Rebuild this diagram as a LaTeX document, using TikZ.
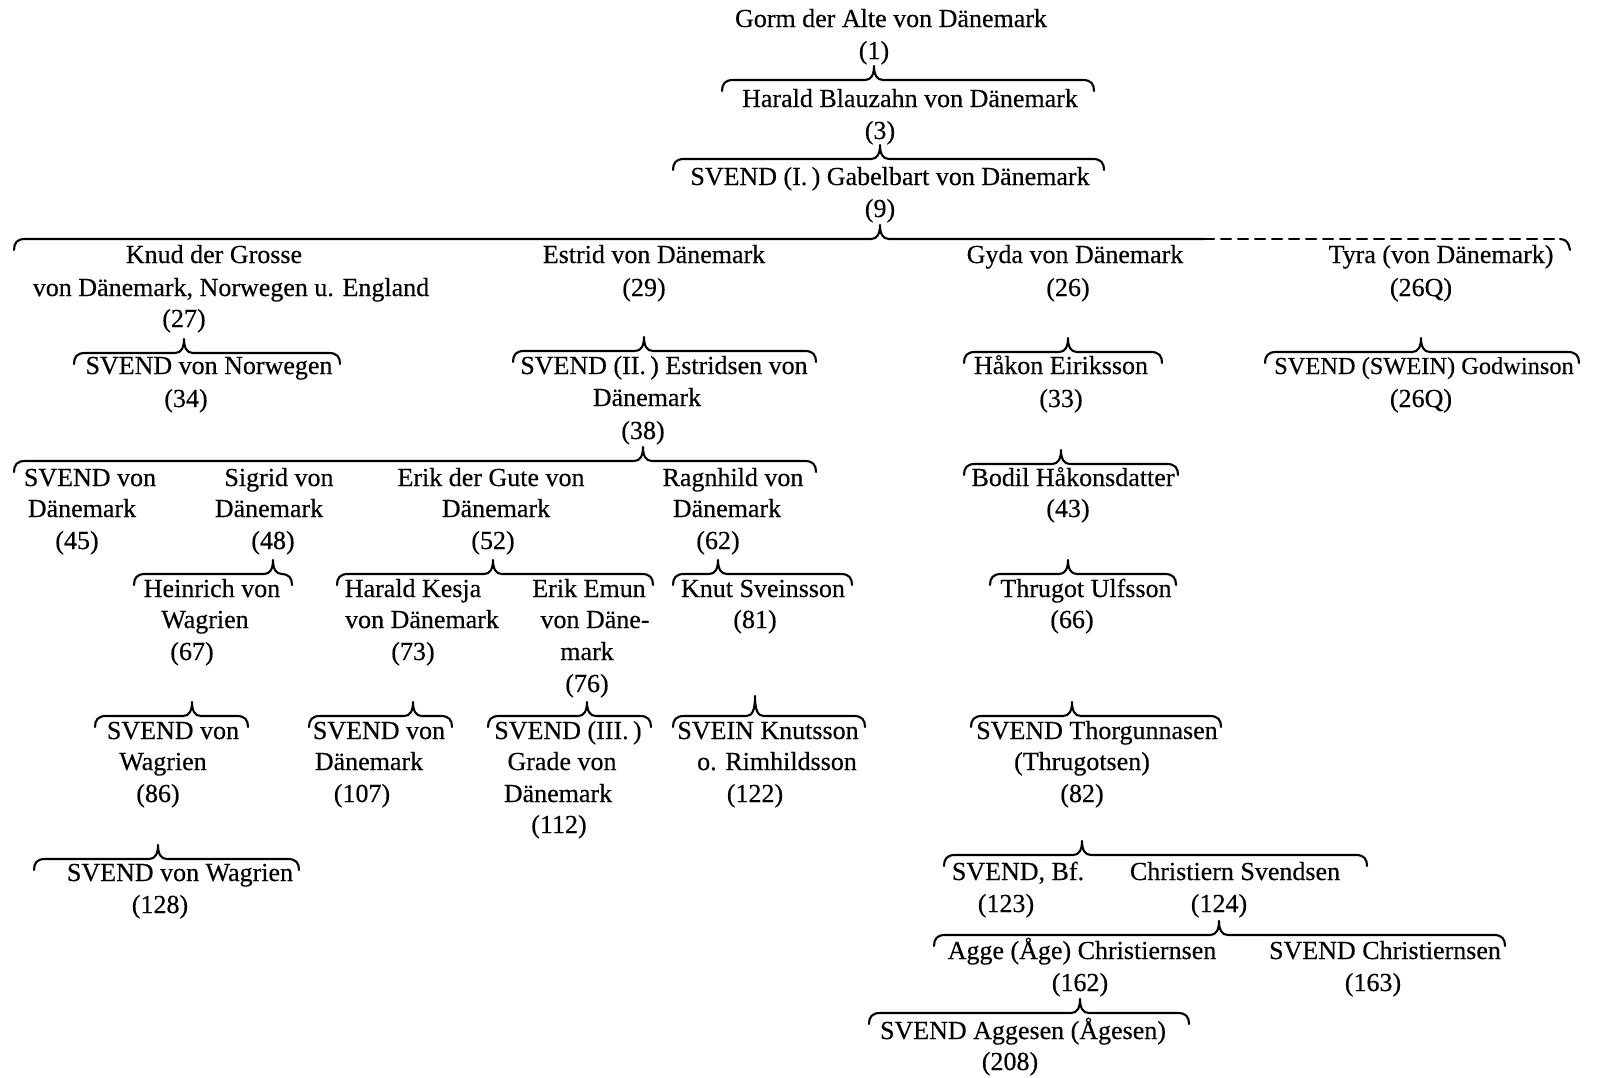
\documentclass[tikz,border=0pt]{standalone}
\usepackage{fontspec}
\setmainfont{Liberation Serif}[FakeBold=0.35]
\usetikzlibrary{calc}
\tikzset{
  lbl/.style={anchor=base, inner sep=0pt, font=\fontsize{13}{16}\selectfont},
  brc/.style={line width=1.05pt, line cap=round, line join=round},
}
% text line: name, x, y (visual middle), text
\newcommand\T[4]{\node[lbl] (#1) at ({#2},{#3+8}) {#4};}
% family brace: [peak height] parent number node, left x, right x, line y
\newcommand\fbr[5][14]{%
  \coordinate (yy) at (0,{#5});
  \coordinate (pk) at (#2 |- yy);
  \draw[brc] ({#3},{#5+11}) .. controls ({#3},{#5+4}) and ({#3+3},{#5}) .. ({#3+11},{#5})
    -- ($(pk)+(-9,0)$) .. controls ($(pk)+(-3,0)$) and ($(pk)+(0,-5)$) .. ($(pk)+(0,-#1)$)
    .. controls ($(pk)+(0,-5)$) and ($(pk)+(3,0)$) .. ($(pk)+(9,0)$)
    -- ({#4-11},{#5}) .. controls ({#4-3},{#5}) and ({#4},{#5+4}) .. ({#4},{#5+11});}
\begin{document}
\begin{tikzpicture}[x=0.5pt,y=-0.5pt]
\useasboundingbox[fill=white] (0,0) rectangle (1600,1077);

% --- top line
\T{g1}{891}{19}{Gorm der Alte von Dänemark}
\T{n1}{874}{51}{(1)}
\fbr{n1}{722}{1094}{80}
\T{g3}{910}{99}{Harald Blauzahn von Dänemark}
\T{n3}{880}{131}{(3)}
\fbr{n3}{673}{1104}{159}
\T{g9}{890}{177}{SVEND (I.\,) Gabelbart von Dänemark}
\T{n9}{880}{209}{(9)}

% big brace (solid, then dashed)
\coordinate (yy) at (0,239);
\coordinate (pk) at (n9 |- yy);
\draw[brc] (14,250) .. controls (14,243) and (17,239) .. (25,239)
  -- ($(pk)+(-9,0)$) .. controls ($(pk)+(-3,0)$) and ($(pk)+(0,-5)$) .. ($(pk)+(0,-14)$)
  .. controls ($(pk)+(0,-5)$) and ($(pk)+(3,0)$) .. ($(pk)+(9,0)$)
  -- (1204,239) coordinate (dstart);
\draw[brc, dash pattern=on 5pt off 3.5pt] (dstart) -- (1560,239) coordinate (dend);
\draw[brc] (dend) .. controls (1566,239) and (1569,243) .. (1570,250);

% --- Knud
\T{k1}{214}{255}{Knud der Grosse}
\T{k2}{231}{288}{von Dänemark, Norwegen u. England}
\T{n27}{184}{319}{(27)}
\fbr{n27}{74}{340}{353}
\T{s34}{209}{366}{SVEND von Norwegen}
\T{n34}{186}{399}{(34)}

% --- Estrid
\T{e1}{654}{255}{Estrid von Dänemark}
\T{n29}{644}{288}{(29)}
\fbr{n29}{513}{816}{351}
\T{s38a}{664}{366}{SVEND (II.\,) Estridsen von}
\T{s38b}{647}{398}{Dänemark}
\T{n38}{643}{431}{(38)}
\fbr{n38}{14}{816}{461}

\T{s45a}{90}{478}{SVEND von}
\T{s45b}{82}{509}{Dänemark}
\T{n45}{77}{541}{(45)}
\T{s48a}{279}{478}{Sigrid von}
\T{s48b}{269}{509}{Dänemark}
\T{n48}{273}{541}{(48)}
\T{s52a}{491}{478}{Erik der Gute von}
\T{s52b}{496}{509}{Dänemark}
\T{n52}{493}{541}{(52)}
\T{s62a}{733}{478}{Ragnhild von}
\T{s62b}{727}{509}{Dänemark}
\T{n62}{718}{541}{(62)}

\fbr{n48}{134}{292}{574}
\T{s67a}{212}{589}{Heinrich von}
\T{s67b}{205}{620}{Wagrien}
\T{n67}{192}{652}{(67)}
\fbr{n52}{337}{653}{574}
\T{s73a}{413}{589}{Harald Kesja}
\T{s73b}{422}{620}{von Dänemark}
\T{n73}{413}{652}{(73)}
\T{s76a}{589}{589}{Erik Emun}
\T{s76b}{595}{620}{von Däne-}
\T{s76c}{587}{652}{mark}
\T{n76}{587}{684}{(76)}
\fbr{n62}{673}{852}{574}
\T{s81}{763}{589}{Knut Sveinsson}
\T{n81}{755}{620}{(81)}

\fbr{n67}{95}{248}{716}
\T{s86a}{173}{731}{SVEND von}
\T{s86b}{163}{762}{Wagrien}
\T{n86}{158}{794}{(86)}
\fbr{n86}{34}{299}{859}
\T{s128}{180}{873}{SVEND von Wagrien}
\T{n128}{160}{905}{(128)}

\fbr{n73}{309}{452}{716}
\T{s107a}{379}{731}{SVEND von}
\T{s107b}{369}{762}{Dänemark}
\T{n107}{362}{794}{(107)}

\fbr{n76}{488}{651}{716}
\T{s112a}{568}{731}{SVEND (III.\,)}
\T{s112b}{562}{762}{Grade von}
\T{s112c}{558}{794}{Dänemark}
\T{n112}{559}{825}{(112)}

\fbr[20]{n81}{673}{865}{716}
\T{s122a}{768}{731}{SVEIN Knutsson}
\T{s122b}{777}{762}{o. Rimhildsson}
\T{n122}{755}{794}{(122)}

% --- Gyda
\T{gy}{1075}{255}{Gyda von Dänemark}
\T{n26}{1068}{288}{(26)}
\fbr{n26}{964}{1162}{352}
\T{s33}{1061}{366}{Håkon Eiriksson}
\T{n33}{1061}{399}{(33)}
\fbr{n33}{964}{1178}{464}
\T{s43}{1073}{478}{Bodil Håkonsdatter}
\T{n43}{1068}{509}{(43)}
\fbr{n43}{990}{1176}{574}
\T{s66}{1086}{589}{Thrugot Ulfsson}
\T{n66}{1072}{620}{(66)}
\fbr{n66}{971}{1221}{716}
\T{s82a}{1097}{731}{SVEND Thorgunnasen}
\T{s82b}{1082}{762}{(Thrugotsen)}
\T{n82}{1082}{794}{(82)}
\fbr{n82}{944}{1367}{855}
\T{s123}{1018}{872}{SVEND, Bf.}
\T{n123}{1006}{904}{(123)}
\T{s124}{1235}{872}{Christiern Svendsen}
\T{n124}{1219}{904}{(124)}
\fbr{n124}{934}{1505}{935}
\T{s162}{1082}{951}{Agge (Åge) Christiernsen}
\T{n162}{1080}{983}{(162)}
\T{s163}{1385}{951}{SVEND Christiernsen}
\T{n163}{1373}{983}{(163)}
\fbr{n162}{869}{1189}{1013}
\T{s208}{1023}{1031}{SVEND Aggesen (Ågesen)}
\T{n208}{1010}{1062}{(208)}

% --- Tyra
\T{ty}{1441}{255}{Tyra (von Dänemark)}
\T{n26Q}{1421}{288}{(26Q)}
\fbr{n26Q}{1265}{1579}{352}
\node[lbl, font=\fontsize{12.2}{16}\selectfont] (sgod) at (1424,374) {SVEND (SWEIN) Godwinson};
\T{n26Qb}{1421}{399}{(26Q)}
\end{tikzpicture}
\end{document}
